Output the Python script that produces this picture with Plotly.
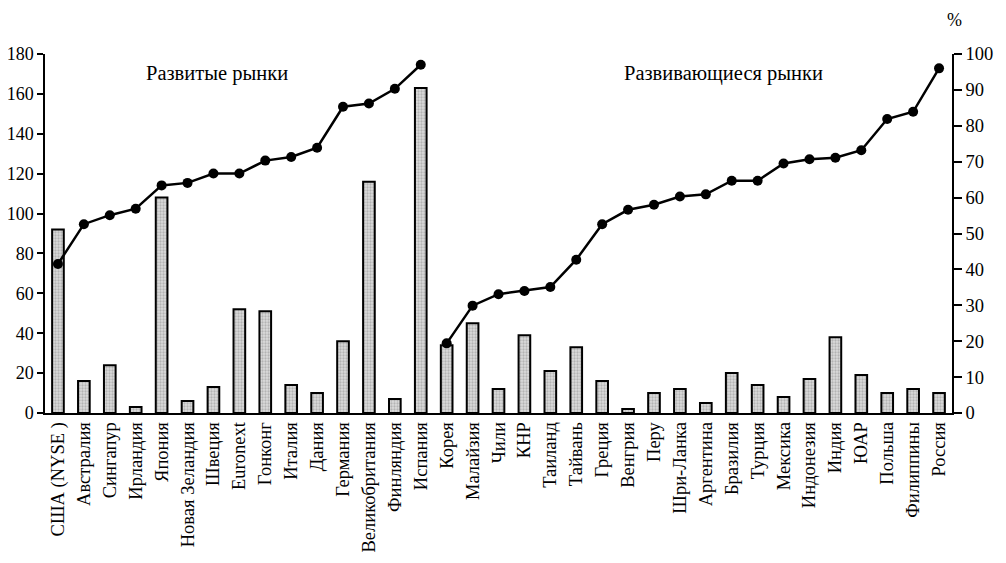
import plotly.graph_objects as go

developed = ["США (NYSE )", "Австралия", "Сингапур", "Ирландия", "Япония", "Новая Зеландия",
             "Швеция", "Euronext", "Гонконг", "Италия", "Дания", "Германия",
             "Великобритания", "Финляндия", "Испания"]
emerging = ["Корея", "Малайзия", "Чили", "КНР", "Таиланд", "Тайвань", "Греция", "Венгрия",
            "Перу", "Шри-Ланка", "Аргентина", "Бразилия", "Турция", "Мексика", "Индонезия",
            "Индия", "ЮАР", "Польша", "Филиппины", "Россия"]

bars_dev = [92, 16, 24, 3, 108, 6, 13, 52, 51, 14, 10, 36, 116, 7, 163]
bars_em = [34, 45, 12, 39, 21, 33, 16, 2, 10, 12, 5, 20, 14, 8, 17, 38, 19, 10, 12, 10]

pct_dev = [41.5, 52.6, 55.1, 56.9, 63.4, 64.1, 66.7, 66.7, 70.3, 71.3, 73.9, 85.3, 86.2, 90.3, 97.0]
pct_em = [19.4, 29.9, 33.1, 34.0, 35.1, 42.7, 52.6, 56.6, 58.0, 60.3, 60.9, 64.7, 64.7, 69.5,
          70.7, 71.1, 73.2, 81.9, 83.9, 96.0]

left_ticks = [0, 20, 40, 60, 80, 100, 120, 140, 160, 180]
right_ticks = [0, 10, 20, 30, 40, 50, 60, 70, 80, 90, 100]

categories = developed + emerging
FONT = "Liberation Serif"

# page body adds an 8px offset
OFF = 8
ML, MR, MT, MB = 45 - OFF, 54 + OFF, 54 - OFF, 150 + OFF
W, H = 1006, 563

fig = go.Figure()
fig.add_trace(go.Bar(
    x=categories, y=bars_dev + bars_em, width=0.45,
    marker=dict(color="#c8c8c8", line=dict(color="black", width=2),
                pattern=dict(shape=".", fgcolor="#8a8a8a", bgcolor="#dcdcdc", size=3, solidity=0.45)),
    yaxis="y", showlegend=False))
fig.add_trace(go.Scatter(
    x=developed, y=pct_dev, mode="lines+markers", yaxis="y2",
    line=dict(color="black", width=2.5), marker=dict(color="black", size=10), showlegend=False))
fig.add_trace(go.Scatter(
    x=emerging, y=pct_em, mode="lines+markers", yaxis="y2",
    line=dict(color="black", width=2.5), marker=dict(color="black", size=10), showlegend=False))

common_y = dict(showgrid=False, zeroline=False, automargin=False, tickcolor="black", tickwidth=1.5)

fig.update_layout(
    width=W, height=H,
    margin=dict(l=ML, r=MR, t=MT, b=MB),
    paper_bgcolor="white", plot_bgcolor="white",
    font=dict(family=FONT, size=18, color="black"),
    xaxis=dict(type="category", categoryorder="array", categoryarray=categories,
               range=[-0.5, len(categories) - 0.5],
               tickangle=-90, showline=True, linecolor="black", linewidth=1.5, automargin=False,
               ticks="", tickfont=dict(family=FONT, size=18.5), showgrid=False, zeroline=False),
    yaxis=dict(range=[0, 180], tickvals=left_ticks, showline=True, linecolor="black", linewidth=1.5,
               ticks="outside", ticklen=6, tickfont=dict(family=FONT, size=18), **common_y),
    yaxis2=dict(range=[0, 100], tickvals=right_ticks, overlaying="y", side="right",
                showline=True, linecolor="black", linewidth=1.5, ticks="outside", ticklen=8,
                tickfont=dict(family=FONT, size=18.5), **common_y),
    yaxis3=dict(range=[0, 180], tickvals=left_ticks, overlaying="y", side="left",
                showline=False, ticks="inside", ticklen=6, showticklabels=False, **common_y),
    yaxis4=dict(range=[0, 100], tickvals=right_ticks, overlaying="y", side="right",
                showline=False, ticks="inside", ticklen=5, showticklabels=False, **common_y),
    annotations=[
        dict(text="Развитые рынки", x=217, y=73, xref="paper", yref="paper", showarrow=False,
             font=dict(family=FONT, size=20.5)),
        dict(text="Развивающиеся рынки", x=723, y=73, xref="paper", yref="paper", showarrow=False,
             font=dict(family=FONT, size=20.5)),
        dict(text="%", x=955, y=20, xref="paper", yref="paper", showarrow=False,
             font=dict(family=FONT, size=18)),
    ],
)

# convert screen-pixel annotation positions to paper coordinates
pw = W - ML - MR
ph = H - MT - MB
for a in fig.layout.annotations:
    px, py = a.x - OFF, a.y - OFF
    a.x = (px - ML) / pw
    a.y = 1 - (py - MT) / ph
    a.xanchor = "center"
    a.yanchor = "middle"

fig.write_html("out.html")
